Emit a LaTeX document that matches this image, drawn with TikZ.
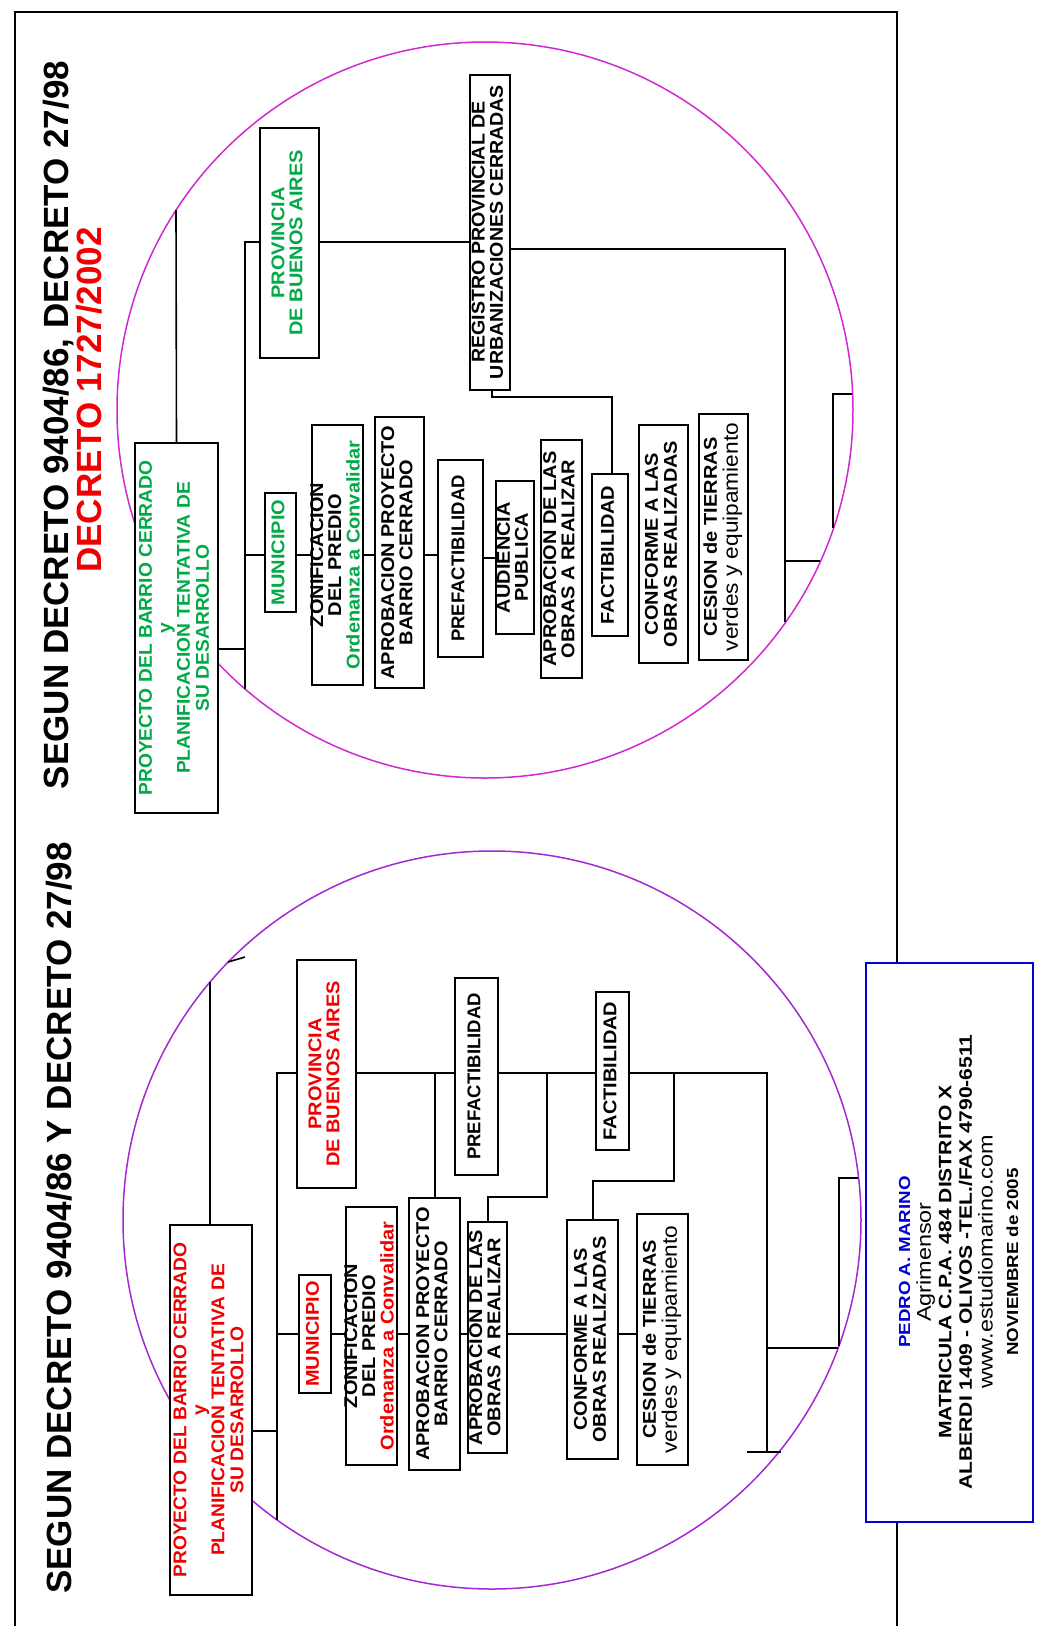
\documentclass[tikz,border=0pt]{standalone}
\usepackage{fontspec}
\setmainfont{Liberation Sans}
\usepackage{graphicx}
\definecolor{grn}{RGB}{0,170,70}
\definecolor{rd}{RGB}{240,0,0}
\definecolor{blu}{RGB}{0,0,210}
\definecolor{ctop}{RGB}{210,40,210}
\definecolor{cbot}{RGB}{165,40,210}
\newcommand\bt[3][1.08]{\rotatebox{90}{\scalebox{#1}[1]{\fontsize{18.5}{#2}\selectfont\bfseries\begin{tabular}{@{}c@{}}#3\end{tabular}}}}
\newcommand\rg[1]{{\mdseries\fontsize{21}{18}\selectfont #1}}
\tikzset{
 con/.style={line width=1.6pt, draw=black},
 frm/.style={line width=2pt, draw=black},
 bx/.style={draw=black, line width=2pt, fill=white, inner sep=0pt, outer sep=0pt},
 tx/.style={inner sep=0pt, outer sep=0pt},
 ttl/.style={rotate=90, inner sep=0pt, font=\fontsize{35}{40}\selectfont\bfseries},
}
\begin{document}
\begin{tikzpicture}[x=1pt,y=-1pt]
\useasboundingbox (0,0) rectangle (1037,1626);
\fill[white] (0,0) rectangle (1037,1626);
% frame
\draw[frm] (15,1626) -- (15,12) -- (897,12) -- (897,1626);
% circles
\draw[draw=ctop, line width=1.5pt] (485,410) circle[radius=368pt];
\draw[draw=cbot, line width=1.5pt] (492,1220) circle[radius=369pt];
% titles
\node[ttl] (t1) at (59,425) {SEGUN DECRETO 9404/86, DECRETO 27/98};
\node[ttl, text=rd] (t2) at (89,400) {DECRETO 1727/2002};
\node[ttl] (t3) at (59,1218) {SEGUN DECRETO 9404/86 Y DECRETO 27/98};

% ---------------- TOP DIAGRAM ----------------
\coordinate (tV1) at (245,242);
\coordinate (tV2) at (245,689);
\coordinate (tR1) at (785,249);
\coordinate (tR2) at (785,622);
\coordinate (tR3) at (785,561);
\coordinate (tR4) at (820,561);
\coordinate (tB1) at (852,394);
\coordinate (tB2) at (833,394);
\coordinate (tB3) at (833,528);
\coordinate (tF1) at (492,397);
\coordinate (tF2) at (612,397);
\coordinate (tTop) at (176,210);

\node[bx, minimum width=83pt, minimum height=370pt] (tProy) at (176.5,628) {};
\node[bx, minimum width=59pt, minimum height=230pt] (tProv) at (289.5,243) {};
\node[bx, minimum width=40pt, minimum height=315pt] (tReg) at (490,232) {};
\node[bx, minimum width=31pt, minimum height=119pt] (tMun) at (280.5,552.5) {};
\node[bx, minimum width=51pt, minimum height=260pt] (tZon) at (337.5,555) {};
\node[bx, minimum width=49pt, minimum height=271pt] (tApr) at (399.5,552.5) {};
\node[bx, minimum width=45pt, minimum height=197pt] (tPre) at (460.5,558.5) {};
\node[bx, minimum width=38pt, minimum height=153pt] (tAud) at (515,557.5) {};
\node[bx, minimum width=41pt, minimum height=238pt] (tObr) at (561.5,559) {};
\node[bx, minimum width=36pt, minimum height=162pt] (tFac) at (610,555) {};
\node[bx, minimum width=49pt, minimum height=238pt] (tCon) at (663.5,544) {};
\node[bx, minimum width=49pt, minimum height=246pt] (tCes) at (723.5,537) {};

\draw[con] (tProy.north) -- (tTop);
\draw[con] (tProy.east |- 0,649) -- (tV1 |- 0,649);
\draw[con] (tV2) -- (tV1) -- (tProv.west |- tV1);
\draw[con] (tProv.east |- tV1) -- (tReg.west |- tV1);
\draw[con] (tReg.east |- tR1) -- (tR1) -- (tR2);
\draw[con] (tR3) -- (tR4);
\draw[con] (tB1) -- (tB2) -- (tB3);
\draw[con] (tReg.south -| tF1) -- (tF1) -- (tF2) -- (tFac.north -| tF2);
\draw[con] (tV1 |- 0,555) -- (tMun.west |- 0,555);
\draw[con] (tMun.east |- 0,555) -- (tZon.west |- 0,555);
\draw[con] (tZon.east |- 0,555) -- (tApr.west |- 0,555);
\draw[con] (tApr.east |- 0,555) -- (tPre.west |- 0,555);
\draw[con] (tPre.east |- 0,558) -- (tAud.west |- 0,558);

\node[tx, text=grn] (tProyT) at (tProy) {\bt[1.04]{19}{PROYECTO DEL BARRIO CERRADO\\y\\PLANIFICACION TENTATIVA DE\\SU DESARROLLO}};
\node[tx, text=grn] (tProvT) at (tProv) {\bt{17}{PROVINCIA\\DE BUENOS AIRES}};
\node[tx] (tRegT) at (tReg) {\bt[1.06]{18}{REGISTRO PROVINCIAL DE\\URBANIZACIONES CERRADAS}};
\node[tx, text=grn] (tMunT) at (tMun) {\bt{18}{MUNICIPIO}};
\node[tx] (tZonT) at (tZon) {\bt{17}{ZONIFICACION\\DEL PREDIO\\\textcolor{grn}{Ordenanza a Convalidar}}};
\node[tx] (tAprT) at (tApr) {\bt{18}{APROBACION PROYECTO\\BARRIO CERRADO}};
\node[tx] (tPreT) at (tPre) {\bt[1.0]{18}{PREFACTIBILIDAD}};
\node[tx] (tAudT) at (tAud) {\bt{17}{AUDIENCIA\\PUBLICA}};
\node[tx] (tObrT) at (tObr) {\bt{18}{APROBACION DE LAS\\OBRAS A REALIZAR}};
\node[tx] (tFacT) at (tFac) {\bt{18}{FACTIBILIDAD}};
\node[tx] (tConT) at (tCon) {\bt{19}{CONFORME A LAS\\OBRAS REALIZADAS}};
\node[tx] (tCesT) at (tCes) {\bt{19}{CESION de TIERRAS\\\rg{verdes y equipamiento}}};

% ---------------- BOTTOM DIAGRAM ----------------
\coordinate (bV1) at (277,1073);
\coordinate (bV2) at (277,1520);
\coordinate (bTop) at (210,982);
\coordinate (bK1) at (435,1073);
\coordinate (bK2) at (547,1073);
\coordinate (bK3) at (547,1197);
\coordinate (bK4) at (488,1197);
\coordinate (bL1) at (674,1073);
\coordinate (bL2) at (674,1181);
\coordinate (bL3) at (593,1181);
\coordinate (bR1) at (767,1073);
\coordinate (bR2) at (767,1452);
\coordinate (bT1) at (747,1452);
\coordinate (bT2) at (781,1452);
\coordinate (bH1) at (767,1348);
\coordinate (bH2) at (838,1348);
\coordinate (bB1) at (858,1178);
\coordinate (bB2) at (839,1178);
\coordinate (bB3) at (839,1346);
\coordinate (bX1) at (228,962);
\coordinate (bX2) at (245,957);

\node[bx, minimum width=82pt, minimum height=370pt] (bProy) at (211,1410) {};
\node[bx, minimum width=59pt, minimum height=228pt] (bProv) at (326.5,1074) {};
\node[bx, minimum width=43pt, minimum height=197pt] (bPre) at (476.5,1076.5) {};
\node[bx, minimum width=33pt, minimum height=158pt] (bFac) at (612.5,1071) {};
\node[bx, minimum width=32pt, minimum height=118pt] (bMun) at (315,1334) {};
\node[bx, minimum width=51pt, minimum height=258pt] (bZon) at (371.5,1336) {};
\node[bx, minimum width=51pt, minimum height=272pt] (bApr) at (434.5,1334) {};
\node[bx, minimum width=39pt, minimum height=231pt] (bObr) at (487.5,1337.5) {};
\node[bx, minimum width=51pt, minimum height=239pt] (bCon) at (592.5,1339.5) {};
\node[bx, minimum width=51pt, minimum height=251pt] (bCes) at (662.5,1339.5) {};

\draw[con] (bProy.north -| bTop) -- (bTop);
\draw[con] (bX1) -- (bX2);
\draw[con] (bProy.east |- 0,1431) -- (bV1 |- 0,1431);
\draw[con] (bV2) -- (bV1) -- (bProv.west |- bV1);
\draw[con] (bProv.east |- bV1) -- (bPre.west |- bV1);
\draw[con] (bK1) -- (bApr.north -| bK1);
\draw[con] (bPre.east |- bV1) -- (bFac.west |- bV1);
\draw[con] (bK2) -- (bK3) -- (bK4) -- (bObr.north -| bK4);
\draw[con] (bFac.east |- bV1) -- (bR1) -- (bR2);
\draw[con] (bT1) -- (bT2);
\draw[con] (bL1) -- (bL2) -- (bL3) -- (bCon.north -| bL3);
\draw[con] (bH1) -- (bH2);
\draw[con] (bB1) -- (bB2) -- (bB3);
\draw[con] (bV1 |- 0,1334) -- (bMun.west |- 0,1334);
\draw[con] (bMun.east |- 0,1334) -- (bZon.west |- 0,1334);
\draw[con] (bZon.east |- 0,1334) -- (bApr.west |- 0,1334);
\draw[con] (bApr.east |- 0,1334) -- (bObr.west |- 0,1334);
\draw[con] (bObr.east |- 0,1334) -- (bCon.west |- 0,1334);
\draw[con] (bCon.east |- 0,1334) -- (bCes.west |- 0,1334);

\node[tx, text=rd] (bProyT) at (bProy) {\bt[1.04]{19}{PROYECTO DEL BARRIO CERRADO\\y\\PLANIFICACION TENTATIVA DE\\SU DESARROLLO}};
\node[tx, text=rd] (bProvT) at (bProv) {\bt{17}{PROVINCIA\\DE BUENOS AIRES}};
\node[tx] (bPreT) at (bPre) {\bt[1.0]{18}{PREFACTIBILIDAD}};
\node[tx] (bFacT) at (bFac) {\bt{18}{FACTIBILIDAD}};
\node[tx, text=rd] (bMunT) at (bMun) {\bt{18}{MUNICIPIO}};
\node[tx] (bZonT) at (bZon) {\bt{17}{ZONIFICACION\\DEL PREDIO\\\textcolor{rd}{Ordenanza a Convalidar}}};
\node[tx] (bAprT) at (bApr) {\bt{18}{APROBACION PROYECTO\\BARRIO CERRADO}};
\node[tx] (bObrT) at (bObr) {\bt{18}{APROBACION DE LAS\\OBRAS A REALIZAR}};
\node[tx] (bConT) at (bCon) {\bt{19}{CONFORME A LAS\\OBRAS REALIZADAS}};
\node[tx] (bCesT) at (bCes) {\bt{19}{CESION de TIERRAS\\\rg{verdes y equipamiento}}};

% ---------------- SIGNATURE BOX ----------------
\node[draw=blu, line width=2pt, fill=white, inner sep=0pt, minimum width=167pt, minimum height=559pt] (sig) at (949.5,1242.5) {};
\node[tx] (sigT) at (960,1262) {\rotatebox{90}{\scalebox{1.17}[1]{\fontsize{18}{20.5}\selectfont\bfseries\begin{tabular}{@{}c@{}}
{\color{blu}\fontsize{16}{20.5}\selectfont PEDRO A. MARINO}\\
{\mdseries\fontsize{20}{20.5}\selectfont Agrimensor}\\
MATRICULA C.P.A. 484 DISTRITO X\\
ALBERDI 1409 - OLIVOS -TEL./FAX 4790-6511\\
{\mdseries\fontsize{20}{20.5}\selectfont www.estudiomarino.com}\\[5pt]
{\fontsize{16}{20.5}\selectfont NOVIEMBRE de 2005}
\end{tabular}}}};
\end{tikzpicture}
\end{document}
